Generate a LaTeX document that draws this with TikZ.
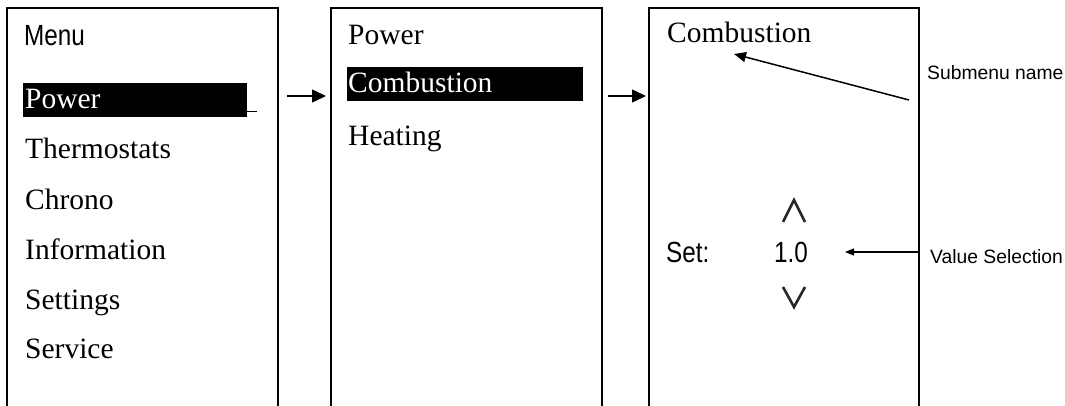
\documentclass[tikz,border=0pt]{standalone}
\usepackage{fontspec}
\setmainfont{Liberation Serif}
\setsansfont{Liberation Sans}
\usetikzlibrary{arrows.meta}
\newcommand\tallsans[1]{\scalebox{1}[1.2]{#1}}
\tikzset{
  frame/.style={line width=1.5pt},
  menuitem/.style={anchor=base west, inner sep=0pt, font=\fontsize{29.5}{31}\selectfont},
  selitem/.style={menuitem, text=white},
  sanstext/.style={anchor=base west, inner sep=0pt, font=\sffamily\fontsize{24.3}{26}\selectfont},
  note/.style={anchor=base west, inner sep=0pt, font=\sffamily\fontsize{19.3}{21}\selectfont},
  flow/.style={line width=1.5pt, -{Triangle[length=14pt,width=13pt]}},
  pointer/.style={line width=1.5pt, -{Triangle[length=12pt,width=10pt]}},
  pointersmall/.style={line width=1.2pt, -{Triangle[length=9pt,width=7pt]}},
  chevron/.style={line width=2.6pt, line join=miter, color=black!85}
}
\begin{document}
\begin{tikzpicture}[x=1pt,y=-1pt]
\useasboundingbox (0,0) rectangle (1065,406);
% frames (open at the bottom)
\coordinate (b1bl) at (7,406); \coordinate (b1tl) at (7,8); \coordinate (b1tr) at (278,8); \coordinate (b1br) at (278,406);
\coordinate (b2bl) at (331,406); \coordinate (b2tl) at (331,8); \coordinate (b2tr) at (602,8); \coordinate (b2br) at (602,406);
\coordinate (b3bl) at (649,406); \coordinate (b3tl) at (649,8); \coordinate (b3tr) at (919,8); \coordinate (b3br) at (919,406);
\draw[frame] (b1bl) -- (b1tl) -- (b1tr) -- (b1br);
\draw[frame] (b2bl) -- (b2tl) -- (b2tr) -- (b2br);
\draw[frame] (b3bl) -- (b3tl) -- (b3tr) -- (b3br);
% screen 1
\node[sanstext] (menu) at (24,45.5) {\tallsans{Menu}};
\fill (23,83) rectangle (247,117);
\draw[line width=1pt] (247,112) -- (257,112);
\node[selitem] (power1) at (25,109) {Power};
\node[menuitem] (thermo) at (25,159) {Thermostats};
\node[menuitem] (chrono) at (25,209) {Chrono};
\node[menuitem] (info) at (25,259) {Information};
\node[menuitem] (settings) at (25,309) {Settings};
\node[menuitem] (service) at (25,358) {Service};
% screen 2
\node[menuitem] (power2) at (348,45) {Power};
\fill (347,67) rectangle (583,101);
\node[selitem] (comb2) at (348,93) {Combustion};
\node[menuitem] (heating) at (348,146) {Heating};
% screen 3
\node[menuitem] (comb3) at (667,43) {Combustion};
\node[sanstext] (set) at (666,262.5) {\tallsans{Set:}};
\node[sanstext] (val) at (774,262.5) {\tallsans{1.0}};
\coordinate (upl) at (783,222); \coordinate (upt) at (794,200); \coordinate (upr) at (805,222);
\draw[chevron] (upl) -- (upt) -- (upr);
\coordinate (dnl) at (783,287); \coordinate (dnb) at (794,307); \coordinate (dnr) at (805,287);
\draw[chevron] (dnl) -- (dnb) -- (dnr);
% notes
\node[note] (subname) at (927,80) {Submenu name};
\node[note] (valsel) at (930,263) {Value Selection};
% arrows
\coordinate (a1s) at (287,96); \coordinate (a1e) at (326,96);
\coordinate (a2s) at (608,96); \coordinate (a2e) at (646,96);
\draw[flow] (a1s) -- (a1e);
\draw[flow] (a2s) -- (a2e);
\coordinate (p1s) at (909,100); \coordinate (p1e) at (734,54);
\draw[pointer] (p1s) -- (p1e);
\coordinate (p2s) at (918,252); \coordinate (p2e) at (845,252);
\draw[pointersmall] (p2s) -- (p2e);
\end{tikzpicture}
\end{document}
